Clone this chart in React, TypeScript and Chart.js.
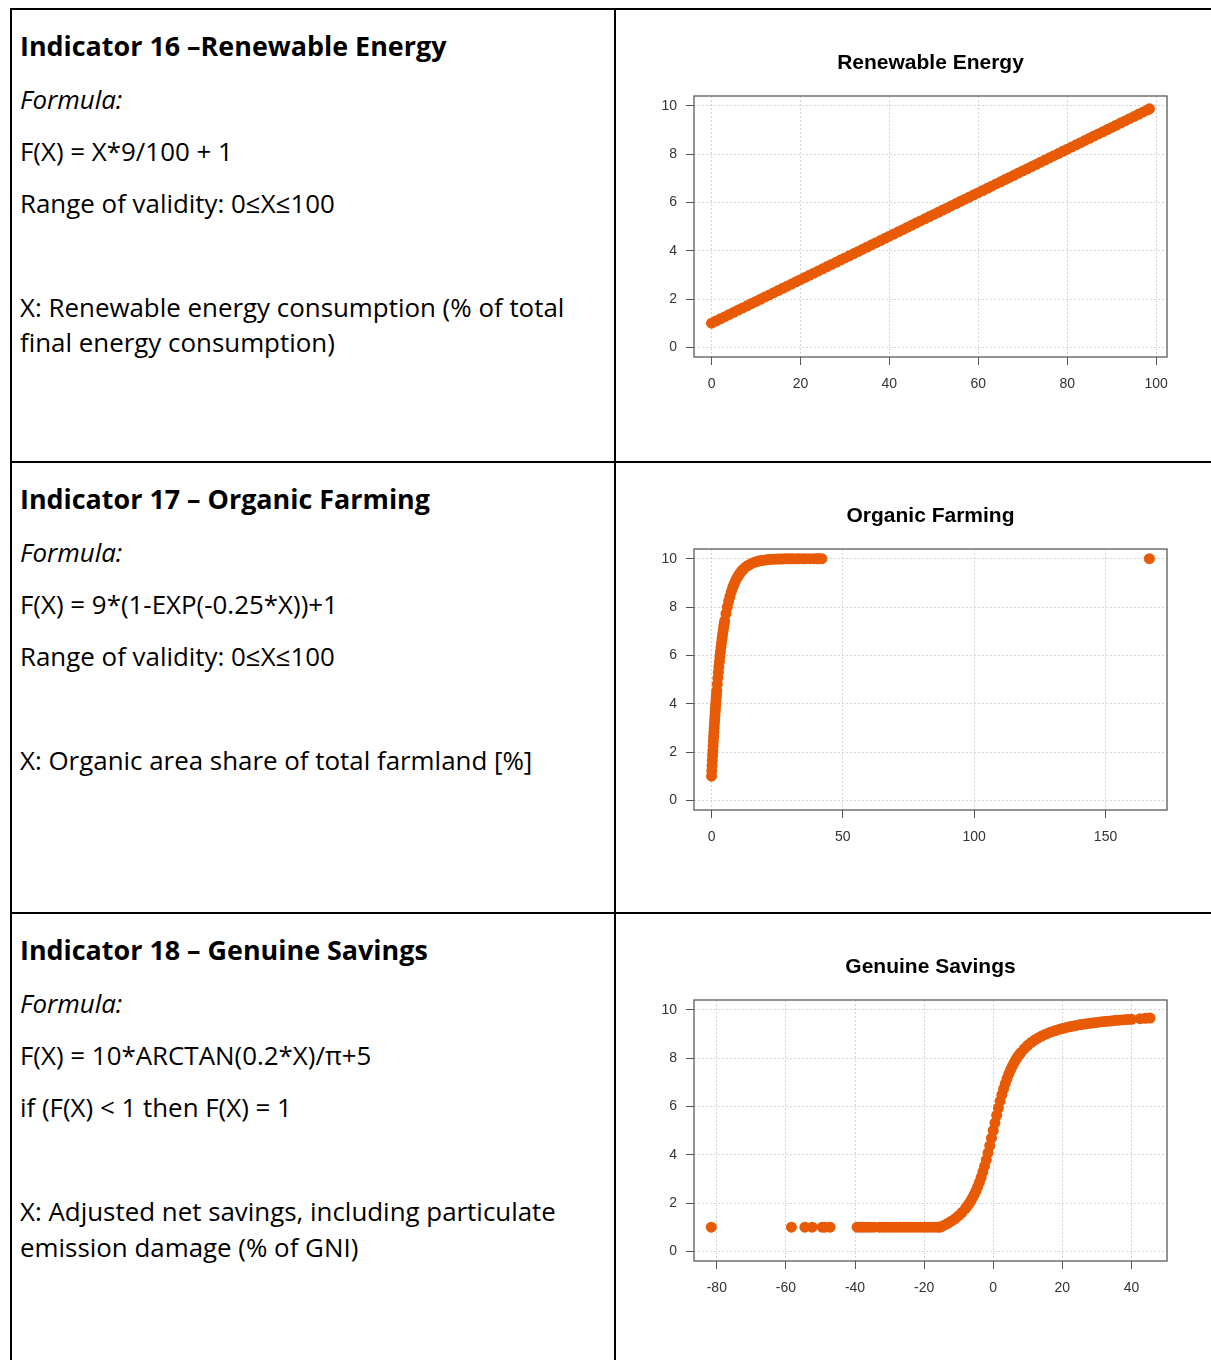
import React, { useEffect, useRef } from 'react';
import { Chart, registerables } from 'chart.js';

Chart.register(...registerables);

// ---------------- data ----------------
const yTicks = [0, 2, 4, 6, 8, 10];
const yRange = [-0.4, 10.4];

const renewableTitle = 'Renewable Energy';
const renewableXTicks = [0, 20, 40, 60, 80, 100];
const renewableXRange = [-3.94, 102.44];
const renewableX = [
  0, 1, 2, 3, 4, 5, 6, 7, 8, 9, 10, 11, 12, 13, 14, 15, 16, 17, 18, 19,
  20, 21, 22, 23, 24, 25, 26, 27, 28, 29, 30, 31, 32, 33, 34, 35, 36, 37, 38, 39,
  40, 41, 42, 43, 44, 45, 46, 47, 48, 49, 50, 51, 52, 53, 54, 55, 56, 57, 58, 59,
  60, 61, 62, 63, 64, 65, 66, 67, 68, 69, 70, 71, 72, 73, 74, 75, 76, 77, 78, 79,
  80, 81, 82, 83, 84, 85, 86, 87, 88, 89, 90, 91, 92, 93, 94, 95, 96, 97, 98, 98.5,
];
const renewableY = [
  1.0, 1.09, 1.18, 1.27, 1.36, 1.45, 1.54, 1.63, 1.72, 1.81, 1.9, 1.99, 2.08, 2.17, 2.26, 2.35, 2.44, 2.53, 2.62, 2.71,
  2.8, 2.89, 2.98, 3.07, 3.16, 3.25, 3.34, 3.43, 3.52, 3.61, 3.7, 3.79, 3.88, 3.97, 4.06, 4.15, 4.24, 4.33, 4.42, 4.51,
  4.6, 4.69, 4.78, 4.87, 4.96, 5.05, 5.14, 5.23, 5.32, 5.41, 5.5, 5.59, 5.68, 5.77, 5.86, 5.95, 6.04, 6.13, 6.22, 6.31,
  6.4, 6.49, 6.58, 6.67, 6.76, 6.85, 6.94, 7.03, 7.12, 7.21, 7.3, 7.39, 7.48, 7.57, 7.66, 7.75, 7.84, 7.93, 8.02, 8.11,
  8.2, 8.29, 8.38, 8.47, 8.56, 8.65, 8.74, 8.83, 8.92, 9.01, 9.1, 9.19, 9.28, 9.37, 9.46, 9.55, 9.64, 9.73, 9.82, 9.87,
];

const organicTitle = 'Organic Farming';
const organicXTicks = [0, 50, 100, 150];
const organicXRange = [-6.67, 173.4];
const organicX = [
  0, 0.1, 0.2, 0.3, 0.4, 0.5, 0.6, 0.7, 0.8, 0.9, 1.0, 1.1, 1.2, 1.3, 1.4, 1.5, 1.6, 1.7, 1.8, 1.9,
  2.0, 2.2, 2.4, 2.6, 2.8, 3.0, 3.2, 3.4, 3.6, 3.8, 4.0, 4.2, 4.4, 4.6, 4.8, 5.0, 5.5, 6.0, 6.5, 7.0,
  7.5, 8.0, 8.5, 9.0, 9.5, 10, 10.5, 11, 11.5, 12, 13, 14, 15, 16, 17, 18, 19, 20, 21, 22,
  23, 24, 25, 26, 27, 28, 29, 30, 31, 32.5, 33.5, 35, 36, 37.5, 39, 40, 40.5, 41, 42, 166.7,
];
const organicY = [
  1.0, 1.222, 1.439, 1.65, 1.856, 2.058, 2.254, 2.445, 2.631, 2.813, 2.991, 3.164, 3.333, 3.497, 3.658, 3.814, 3.967, 4.116, 4.261, 4.403,
  4.541, 4.807, 5.061, 5.302, 5.531, 5.749, 5.956, 6.153, 6.341, 6.519, 6.689, 6.851, 7.004, 7.15, 7.289, 7.421, 7.724, 7.992, 8.228, 8.436,
  8.62, 8.782, 8.925, 9.051, 9.163, 9.261, 9.348, 9.425, 9.492, 9.552, 9.651, 9.728, 9.788, 9.835, 9.872, 9.9, 9.922, 9.939, 9.953, 9.963,
  9.971, 9.978, 9.983, 9.986, 9.989, 9.992, 9.994, 9.995, 9.996, 9.997, 9.998, 9.998, 9.999, 9.999, 10.0, 10.0, 10.0, 10.0, 10.0, 10.0,
];

const savingsTitle = 'Genuine Savings';
const savingsXTicks = [-80, -60, -40, -20, 0, 20, 40];
const savingsXRange = [-86.6, 50.3];
const savingsX = [
  -81.6, -58.4, -54.5, -52.4, -49.5, -48.7, -47.2,
  -39.4, -38.5, -37.5, -36.5, -35.5, -34.5, -33, -32, -31, -30, -29, -28, -27, -26, -25, -24, -23, -22, -21, -20, -19, -18, -17, -16, -15.4,
  -15, -14, -13, -12, -11, -10, -9, -8, -7.5, -7, -6.5, -6, -5.5, -5, -4.5, -4, -3.5, -3, -2.5, -2, -1.5, -1, -0.5,
  0, 0.5, 1, 1.5, 2, 2.5, 3, 3.5, 4, 4.5, 5, 5.5, 6, 6.5, 7, 7.5, 8, 9, 10, 11, 12, 13, 14, 15,
  16, 17, 18, 19, 20, 21, 22, 23, 24, 25, 26, 27, 28, 29, 30, 31, 32, 33, 34, 35, 36, 37, 38, 39, 40,
  42.5, 44, 45.4,
];
const savingsY = [
  1, 1, 1, 1, 1, 1, 1,
  1, 1, 1, 1, 1, 1, 1, 1, 1, 1, 1, 1, 1, 1, 1, 1, 1, 1, 1, 1, 1, 1, 1, 1, 1,
  1.024, 1.092, 1.169, 1.257, 1.358, 1.476, 1.614, 1.778, 1.872, 1.974, 2.087, 2.211, 2.349, 2.5, 2.667, 2.852, 3.056, 3.28, 3.524, 3.789, 4.072, 4.372, 4.683,
  5.0, 5.317, 5.628, 5.928, 6.211, 6.476, 6.72, 6.944, 7.148, 7.333, 7.5, 7.651, 7.789, 7.913, 8.026, 8.128, 8.222, 8.386, 8.524, 8.642, 8.743, 8.831, 8.908, 8.976,
  9.036, 9.089, 9.137, 9.181, 9.22, 9.256, 9.289, 9.318, 9.346, 9.372, 9.395, 9.417, 9.437, 9.456, 9.474, 9.491, 9.507, 9.521, 9.535, 9.548, 9.561, 9.573, 9.584, 9.594, 9.604,
  9.627, 9.64, 9.651,
];

// ---------------- styling ----------------
const POINT_COLOR = '#E85A05';
const AXIS_FONT = '"Liberation Sans", Arial, sans-serif';
const BODY_FONT = '"Open Sans", "Noto Sans", sans-serif';
const FS = 25.9;
const FS_BOLD = 26.9;
const ASC = 1.069;
const DESC = 0.293;
const LH = 1.2;

const boxPlugin = {
  id: 'rbox',
  afterDatasetsDraw(chart: any) {
    const { ctx, chartArea: a } = chart;
    ctx.save();
    ctx.strokeStyle = '#5a5a5a';
    ctx.lineWidth = 1.3;
    ctx.strokeRect(a.left, a.top, a.right - a.left, a.bottom - a.top);
    ctx.restore();
  },
};

type ScatterProps = {
  top: number;
  title: string;
  xs: number[];
  ys: number[];
  xTicks: number[];
  xRange: number[];
};

function Scatter({ top, title, xs, ys, xTicks, xRange }: ScatterProps) {
  const ref = useRef<HTMLCanvasElement | null>(null);
  useEffect(() => {
    if (!ref.current) return;
    const data = xs.map((x, i) => ({ x, y: ys[i] }));
    const gridCommon = {
      color: '#d4d4d4',
      lineWidth: 1,
      tickColor: '#555',
      tickLength: 8,
      tickWidth: 1,
      tickBorderDash: [],
    };
    const chart = new Chart(ref.current, {
      type: 'scatter',
      data: {
        datasets: [
          {
            data,
            pointRadius: 5.5,
            pointHoverRadius: 5.5,
            backgroundColor: POINT_COLOR,
            borderWidth: 0,
          },
        ],
      },
      options: {
        animation: false,
        responsive: false,
        events: [],
        layout: { padding: { left: 0, right: 44, top: 0, bottom: 0 } },
        plugins: {
          legend: { display: false },
          tooltip: { enabled: false },
          title: {
            display: true,
            text: title,
            fullSize: false,
            color: '#000',
            font: { family: AXIS_FONT, size: 21, weight: 'bold', lineHeight: 1.2 },
            padding: { top: 11, bottom: 19.8 },
          },
        },
        scales: {
          x: {
            type: 'linear',
            min: xRange[0],
            max: xRange[1],
            afterBuildTicks: (axis: any) => {
              axis.ticks = xTicks.map((v) => ({ value: v }));
            },
            afterFit: (axis: any) => {
              axis.height = 43;
            },
            grid: gridCommon,
            border: { display: false, dash: [2, 2] },
            ticks: {
              font: { family: AXIS_FONT, size: 14 },
              color: '#333',
              padding: 11,
              maxRotation: 0,
              autoSkip: false,
            },
          },
          y: {
            type: 'linear',
            min: yRange[0],
            max: yRange[1],
            afterBuildTicks: (axis: any) => {
              axis.ticks = yTicks.map((v) => ({ value: v }));
            },
            afterFit: (axis: any) => {
              axis.width = 44;
            },
            grid: gridCommon,
            border: { display: false, dash: [2, 2] },
            ticks: {
              font: { family: AXIS_FONT, size: 14 },
              color: '#333',
              padding: 9,
              autoSkip: false,
            },
          },
        },
      } as any,
      plugins: [boxPlugin],
    });
    return () => chart.destroy();
  }, [top, title, xs, ys, xTicks, xRange]);
  return (
    <canvas
      ref={ref}
      width={561}
      height={360}
      style={{ position: 'absolute', left: 650, top, width: 561, height: 360 }}
    />
  );
}

function TextLine({
  baseline,
  children,
  bold = false,
  italic = false,
}: {
  baseline: number;
  children: React.ReactNode;
  bold?: boolean;
  italic?: boolean;
}) {
  const fs = bold ? FS_BOLD : FS;
  const offset = ((LH - (ASC + DESC)) / 2 + ASC) * fs;
  return (
    <div
      style={{
        position: 'absolute',
        left: 20,
        top: baseline - offset,
        fontFamily: BODY_FONT,
        fontSize: fs,
        lineHeight: `${fs * LH}px`,
        fontWeight: bold ? 700 : 400,
        fontStyle: italic ? 'italic' : 'normal',
        whiteSpace: 'nowrap',
        color: '#000',
      }}
    >
      {children}
    </div>
  );
}

const line = (left: number, top: number, width: number, height: number) => (
  <div style={{ position: 'absolute', left, top, width, height, background: '#000' }} />
);

export default function App() {
  return (
    <div
      style={{
        position: 'absolute',
        left: 0,
        top: 0,
        width: 1211,
        height: 1360,
        background: '#fff',
        overflow: 'hidden',
      }}
    >
      {line(10, 8, 1201, 2)}
      {line(10, 461, 1201, 2)}
      {line(10, 912, 1201, 2)}
      {line(10, 8, 2, 1352)}
      {line(614, 8, 2, 1352)}

      <TextLine baseline={57} bold>Indicator 16 –Renewable Energy</TextLine>
      <TextLine baseline={110} italic>Formula:</TextLine>
      <TextLine baseline={162}>F(X) = X*9/100 + 1</TextLine>
      <TextLine baseline={214}>Range of validity: 0≤X≤100</TextLine>
      <TextLine baseline={318}>X: Renewable energy consumption (% of total</TextLine>
      <TextLine baseline={353}>final energy consumption)</TextLine>

      <TextLine baseline={510} bold>Indicator 17 – Organic Farming</TextLine>
      <TextLine baseline={563} italic>Formula:</TextLine>
      <TextLine baseline={615}>F(X) = 9*(1-EXP(-0.25*X))+1</TextLine>
      <TextLine baseline={667}>Range of validity: 0≤X≤100</TextLine>
      <TextLine baseline={771}>X: Organic area share of total farmland [%]</TextLine>

      <TextLine baseline={961} bold>Indicator 18 – Genuine Savings</TextLine>
      <TextLine baseline={1014} italic>Formula:</TextLine>
      <TextLine baseline={1066}>F(X) = 10*ARCTAN(0.2*X)/π+5</TextLine>
      <TextLine baseline={1118}>if (F(X) &lt; 1 then F(X) = 1</TextLine>
      <TextLine baseline={1222}>X: Adjusted net savings, including particulate</TextLine>
      <TextLine baseline={1258}>emission damage (% of GNI)</TextLine>

      <Scatter top={40} title={renewableTitle} xs={renewableX} ys={renewableY} xTicks={renewableXTicks} xRange={renewableXRange} />
      <Scatter top={493} title={organicTitle} xs={organicX} ys={organicY} xTicks={organicXTicks} xRange={organicXRange} />
      <Scatter top={944} title={savingsTitle} xs={savingsX} ys={savingsY} xTicks={savingsXTicks} xRange={savingsXRange} />
    </div>
  );
}
